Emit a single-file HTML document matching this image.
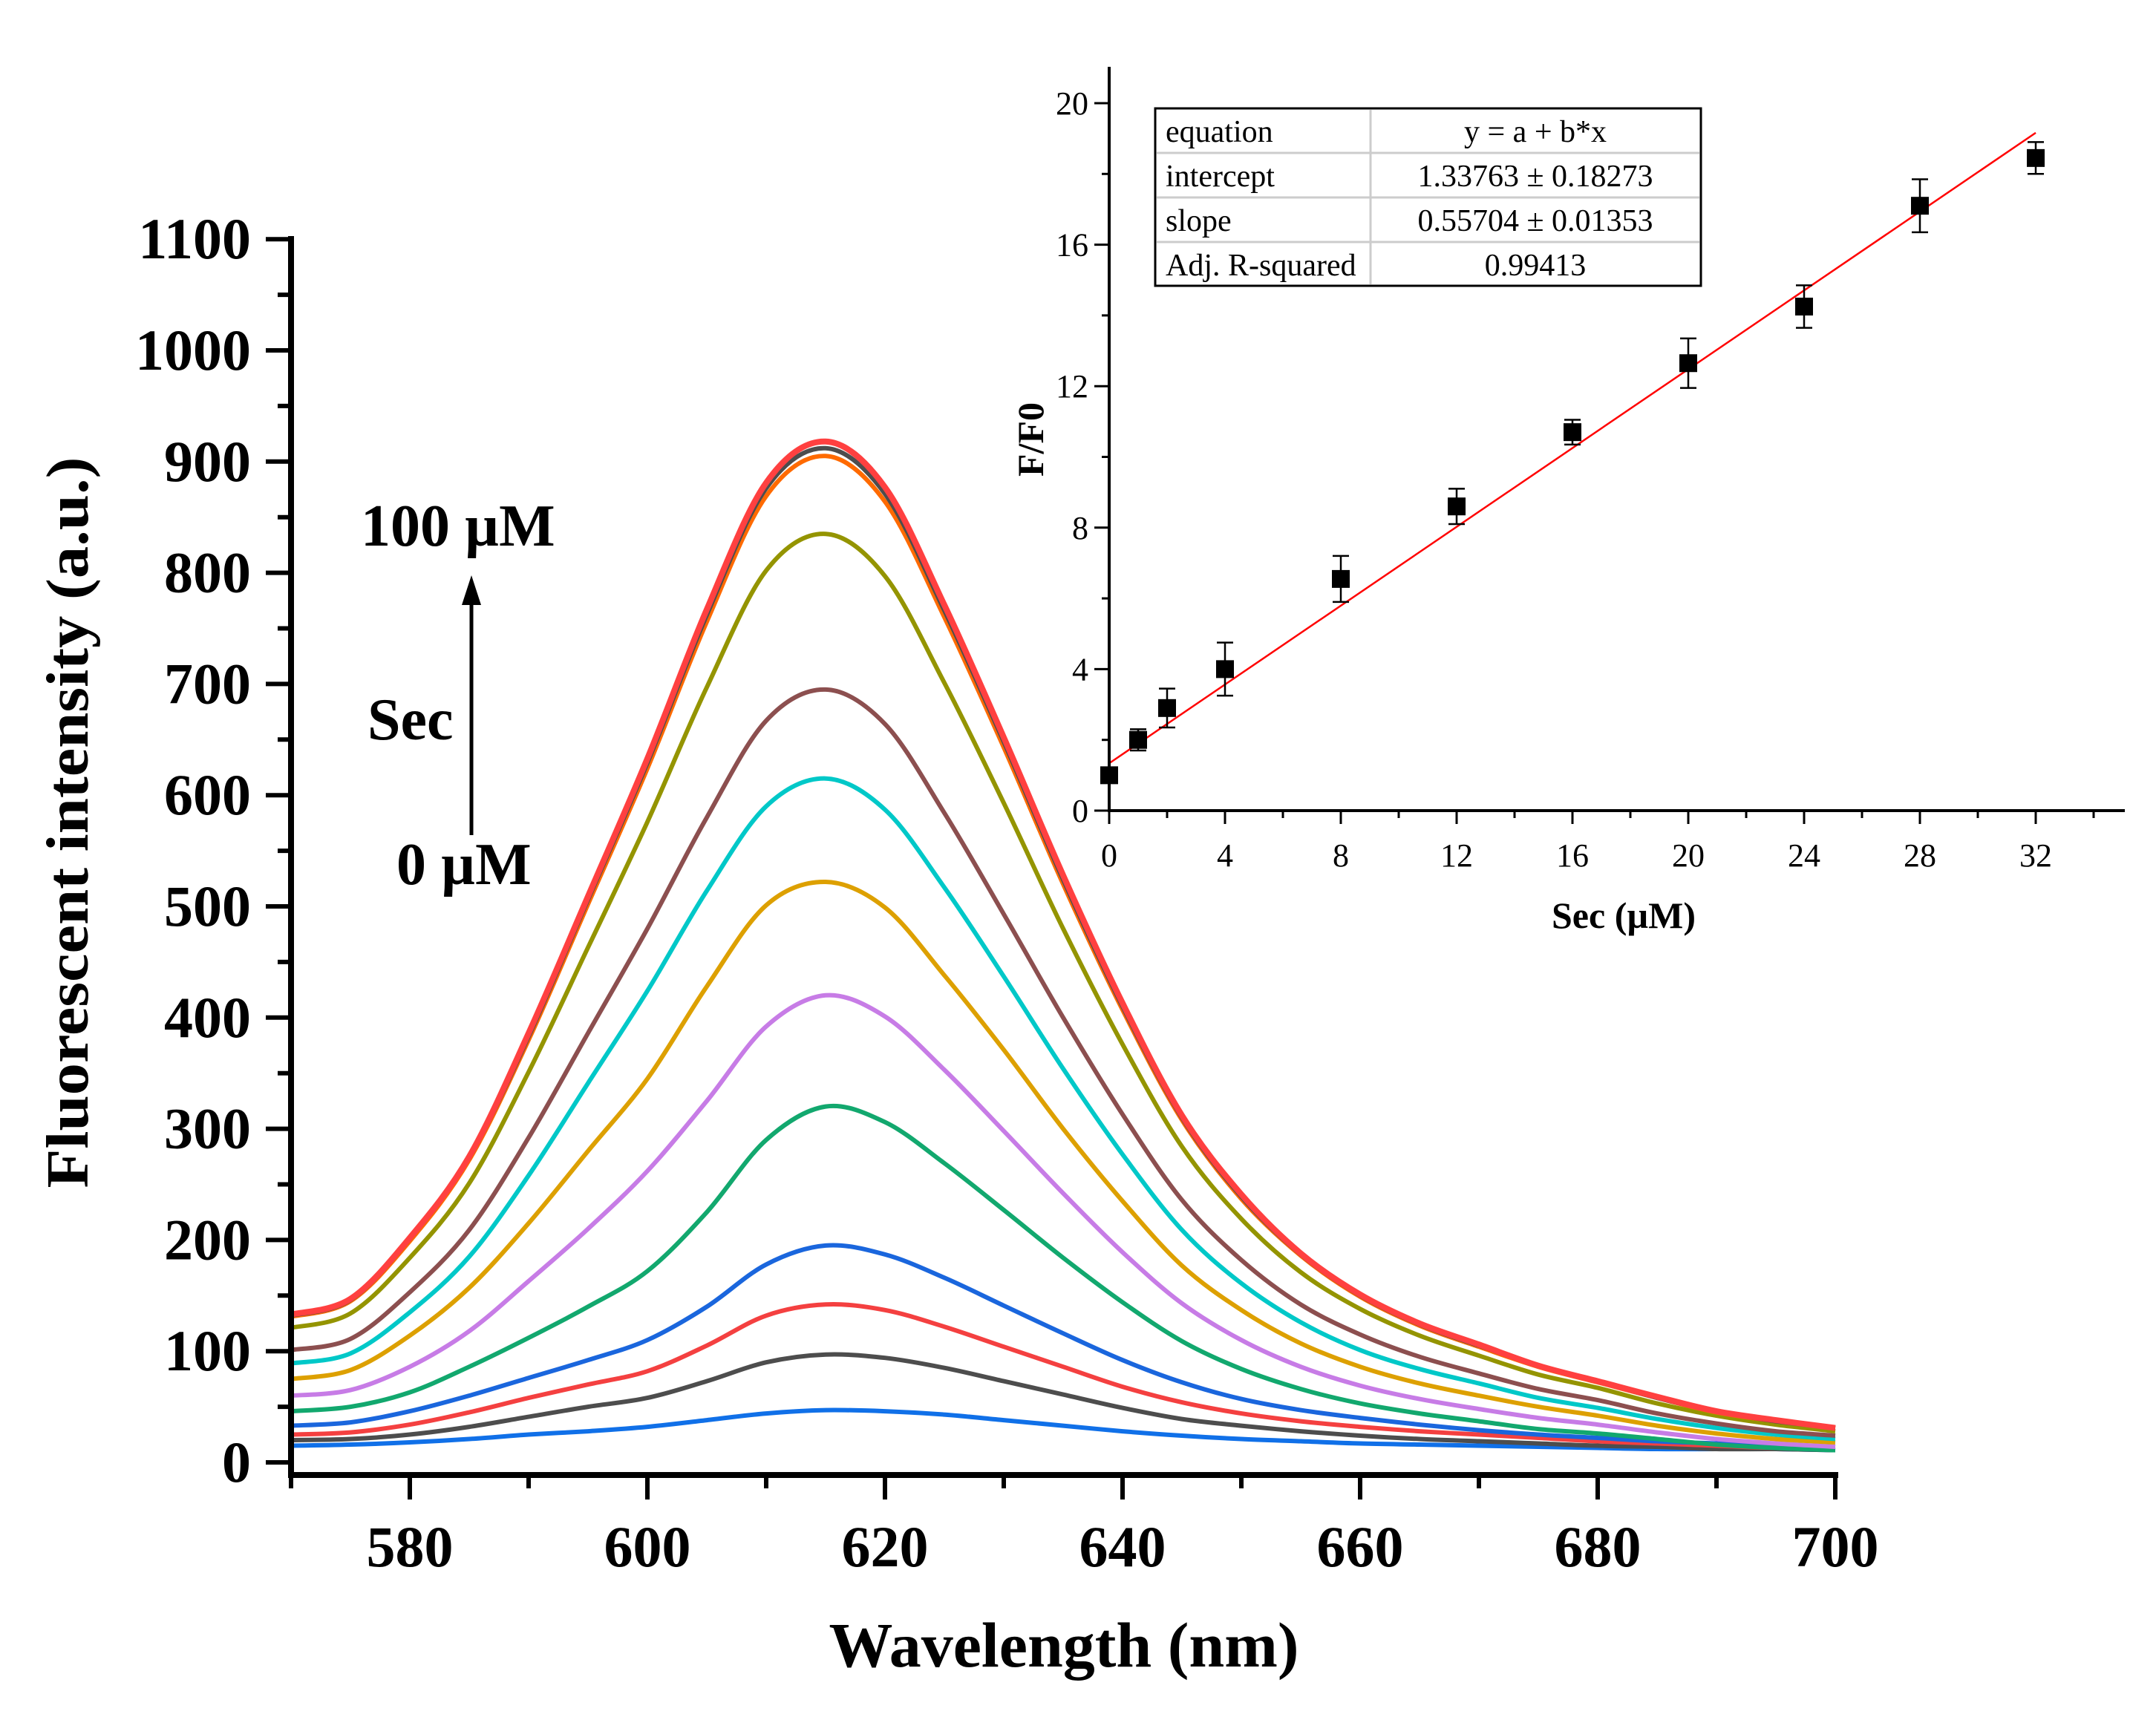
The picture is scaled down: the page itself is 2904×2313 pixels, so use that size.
<!DOCTYPE html>
<html><head><meta charset="utf-8"><style>
html,body{margin:0;padding:0;background:#fff}
svg{display:block}
.b{font-family:"Liberation Serif",serif;font-weight:bold}
.r{font-family:"Liberation Serif",serif}
</style></head><body>
<svg id="chart" width="2904" height="2313" viewBox="0 0 2904 2313" xmlns="http://www.w3.org/2000/svg">
<rect width="2904" height="2313" fill="#fff"/>
<g id="main"></g>
<g id="inset"></g>
</svg>
<script>
// ---------- main spectra data ----------
const wavelengths = [570,575,580,585,590,595,600,605,610,615,620,625,630,635,640,645,650,655,660,665,670,675,680,685,690,695,700];
const xTicks = [580,600,620,640,660,680,700];
const yTicks = [0,100,200,300,400,500,600,700,800,900,1000,1100];
const s13 = [15,16,18,21,25,28,32,38,44,47,46,43,38,33,28,24,21,19,17,16,15,14,13,12,12,12,11];
const s12 = [20,21,25,32,41,50,58,73,90,97,94,85,73,61,49,39,33,28,24,21,19,17,15,14,12,12,11];
const s11 = [25,27,34,45,58,70,82,105,132,142,137,122,104,86,68,54,44,37,32,28,25,22,19,17,15,13,13];
const s10 = [33,36,46,60,76,92,110,140,178,195,187,166,141,116,92,72,57,47,40,34,29,25,22,19,17,15,14];
const s9 = [46,50,63,86,112,140,172,225,290,320,306,269,227,184,144,109,84,66,53,44,37,30,26,21,16,13,11];
const s8 = [60,65,86,118,163,210,262,325,392,420,401,353,298,242,189,143,110,86,69,57,48,40,34,27,21,17,14];
const s7 = [75,83,114,157,215,280,345,428,501,522,499,438,371,300,235,177,137,107,86,71,60,50,42,33,26,21,18];
const s6 = [89,98,135,185,258,341,424,514,590,615,587,517,437,354,277,209,161,126,101,84,71,58,49,39,31,25,21];
const s5 = [101,111,153,209,292,386,480,580,667,695,664,584,493,400,313,236,182,142,115,95,80,66,56,44,35,28,24];
const s4 = [121,134,184,251,351,463,576,697,802,835,797,701,593,480,376,284,219,171,138,114,96,79,67,53,42,34,28];
const s3 = [131,145,199,272,380,502,624,756,869,905,864,760,643,520,407,308,237,186,149,123,104,86,72,58,45,37,31];
const s2 = [132,146,201,274,383,506,629,762,876,912,871,766,648,524,410,310,239,187,150,124,105,87,73,58,46,37,31];
const s1 = [133,147,202,275,386,509,633,767,881,918,877,771,652,528,413,312,241,188,151,125,106,87,73,59,46,38,31];
// ---------- inset data ----------
const secConc = [0,1,2,4,8,12,16,20,24,28,32];
const ratioF = [1.0,2.0,2.9,4.0,6.55,8.6,10.7,12.65,14.25,17.1,18.45];
const ratioErr = [0.1,0.3,0.55,0.75,0.65,0.5,0.35,0.7,0.6,0.75,0.45];
const fitIntercept = 1.33763;
const fitSlope = 0.55704;
const insetXTicks = [0,4,8,12,16,20,24,28,32];
const insetYTicks = [0,4,8,12,16,20];

const NS="http://www.w3.org/2000/svg";
function mk(parent,tag,attrs,text){const e=document.createElementNS(NS,tag);for(const k in attrs)e.setAttribute(k,attrs[k]);if(text!==undefined)e.textContent=text;parent.appendChild(e);return e;}
function smoothPath(p){
  let d='M'+p[0][0].toFixed(1)+','+p[0][1].toFixed(1);
  for(let i=0;i<p.length-1;i++){
    const p0=p[i-1]||p[i],p1=p[i],p2=p[i+1],p3=p[i+2]||p2;
    const c1x=p1[0]+(p2[0]-p0[0])/6,c1y=p1[1]+(p2[1]-p0[1])/6;
    const c2x=p2[0]-(p3[0]-p1[0])/6,c2y=p2[1]-(p3[1]-p1[1])/6;
    d+=' C'+c1x.toFixed(1)+','+c1y.toFixed(1)+' '+c2x.toFixed(1)+','+c2y.toFixed(1)+' '+p2[0].toFixed(1)+','+p2[1].toFixed(1);
  }
  return d;
}

// main axes
const X=v=>392+(v-570)*(2080/130);
const Y=v=>1970-v*1.498;
const main=document.getElementById('main');
const series=[
 {d:s13,c:'#1070e8',w:6},{d:s12,c:'#4d4d4d',w:6},{d:s11,c:'#f44040',w:6},{d:s10,c:'#1a66dd',w:6},
 {d:s9,c:'#12a86e',w:6},{d:s8,c:'#c77ce6',w:6},{d:s7,c:'#dda000',w:6},{d:s6,c:'#00c8c8',w:6},
 {d:s5,c:'#8c4f4f',w:6},{d:s4,c:'#949400',w:6},{d:s3,c:'#ff6a00',w:6},{d:s2,c:'#4d4d4d',w:6},{d:s1,c:'#ff4040',w:8}];
series.forEach((s,i)=>{
  const pts=s.d.map((v,j)=>[X(wavelengths[j]),Y(v)]);
  const p=mk(main,'path',{d:smoothPath(pts),fill:'none',stroke:s.c,'stroke-width':s.w,'stroke-linejoin':'round'});
  
  
});
// axes lines
let a=mk(main,'line',{x1:392,y1:318,x2:392,y2:1991,stroke:'#000','stroke-width':8});

a=mk(main,'line',{x1:388,y1:1987,x2:2476,y2:1987,stroke:'#000','stroke-width':8});

for(let v=0;v<=1100;v+=50){
  const major=v%100===0;
  mk(main,'line',{x1:major?358:374,y1:Y(v),x2:392,y2:Y(v),stroke:'#000','stroke-width':6});
}
yTicks.forEach(v=>{
  const t=mk(main,'text',{x:338,y:Y(v)+26,'text-anchor':'end','font-size':78,class:'b'},String(v));
  
});
for(let v=570;v<=700;v+=10){
  const major=(v-580)%20===0;
  mk(main,'line',{x1:X(v),y1:1987,x2:X(v),y2:major?2020:2005,stroke:'#000','stroke-width':6});
}
xTicks.forEach(v=>{
  const t=mk(main,'text',{x:X(v),y:2110,'text-anchor':'middle','font-size':78,class:'b'},String(v));
  
});
let t=mk(main,'text',{x:1433,y:2245,'text-anchor':'middle','font-size':86,class:'b'},'Wavelength (nm)');

t=mk(main,'text',{x:0,y:0,'text-anchor':'middle','font-size':80,class:'b',transform:'translate(118,1108) rotate(-90)',textLength:985,lengthAdjust:'spacingAndGlyphs'},'Fluorescent intensity (a.u.)');

t=mk(main,'text',{x:486,y:735,'font-size':80,class:'b'},'100 µM');

t=mk(main,'text',{x:495,y:996,'font-size':80,class:'b'},'Sec');

t=mk(main,'text',{x:534,y:1191,'font-size':80,class:'b'},'0 µM');

a=mk(main,'line',{x1:635,y1:1125,x2:635,y2:800,stroke:'#000','stroke-width':5});

a=mk(main,'polygon',{points:'635,775 622,815 648,815',fill:'#000'});


// inset
const inset=document.getElementById('inset');
const IX=v=>1494+v*39;
const IY=v=>1092-v*47.65;
const fitLine=mk(inset,'line',{x1:IX(0),y1:IY(fitIntercept),x2:IX(32),y2:IY(fitIntercept+fitSlope*32),stroke:'#ff0000','stroke-width':2.5});

secConc.forEach((x,i)=>{
  const g=mk(inset,'g',{});
  
  
  const cx=IX(x),cy=IY(ratioF[i]),e1=IY(ratioF[i]+ratioErr[i]),e2=IY(ratioF[i]-ratioErr[i]);
  mk(g,'line',{x1:cx,y1:e1,x2:cx,y2:e2,stroke:'#000','stroke-width':2.5});
  mk(g,'line',{x1:cx-11,y1:e1,x2:cx+11,y2:e1,stroke:'#000','stroke-width':2.5});
  mk(g,'line',{x1:cx-11,y1:e2,x2:cx+11,y2:e2,stroke:'#000','stroke-width':2.5});
  mk(g,'rect',{x:cx-12,y:cy-12,width:24,height:24,fill:'#000'});
});
a=mk(inset,'line',{x1:1494,y1:90,x2:1494,y2:1094,stroke:'#000','stroke-width':4});

a=mk(inset,'line',{x1:1492,y1:1092,x2:2862,y2:1092,stroke:'#000','stroke-width':4});

for(let v=0;v<=20;v+=2){const m=v%4===0;mk(inset,'line',{x1:m?1474:1484,y1:IY(v),x2:1494,y2:IY(v),stroke:'#000','stroke-width':3});}
for(let v=0;v<=34;v+=2){const m=v%4===0;mk(inset,'line',{x1:IX(v),y1:1092,x2:IX(v),y2:m?1110:1102,stroke:'#000','stroke-width':3});}
insetYTicks.forEach(v=>{const q=mk(inset,'text',{x:1466,y:IY(v)+15,'text-anchor':'end','font-size':44,class:'r'},String(v));
 });
insetXTicks.forEach(v=>{const q=mk(inset,'text',{x:IX(v),y:1167,'text-anchor':'middle','font-size':44,class:'r'},String(v));
 });
t=mk(inset,'text',{x:2187,y:1250,'text-anchor':'middle','font-size':50,class:'b'},'Sec (µM)');

t=mk(inset,'text',{x:0,y:0,'text-anchor':'middle','font-size':50,class:'b',transform:'translate(1405,592) rotate(-90)'},'F/F0');

// table
const tbl=mk(inset,'g',{});

mk(tbl,'rect',{x:1556,y:146,width:735,height:239,fill:'#fff',stroke:'none'});
[206,266,326].forEach(y=>mk(tbl,'line',{x1:1558,y1:y,x2:2289,y2:y,stroke:'#ccc','stroke-width':3}));
mk(tbl,'line',{x1:1846,y1:148,x2:1846,y2:383,stroke:'#ccc','stroke-width':3});
mk(tbl,'rect',{x:1556,y:146,width:735,height:239,fill:'none',stroke:'#000','stroke-width':3});
const rowsL=['equation','intercept','slope','Adj. R-squared'];
const rowsR=['y = a + b*x','1.33763 ± 0.18273','0.55704 ± 0.01353','0.99413'];
rowsL.forEach((s,i)=>{const q=mk(tbl,'text',{x:1570,y:191+i*60,'font-size':42,class:'r'},s);
 });
rowsR.forEach((s,i)=>{const q=mk(tbl,'text',{x:2068,y:191+i*60,'text-anchor':'middle','font-size':42,class:'r'},s);
 });
</script>
</body></html>
